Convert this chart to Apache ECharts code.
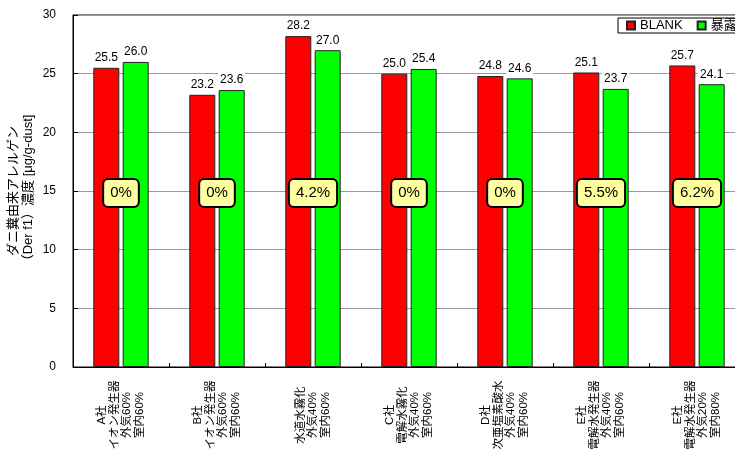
<!DOCTYPE html>
<html><head><meta charset="utf-8">
<script src="https://cdn.jsdelivr.net/npm/echarts@6/dist/echarts.min.js"></script>
<style>html,body{margin:0;padding:0;background:#fff}#c{width:735px;height:455px}</style>
</head><body><div id="c"></div>
<script>
const categories = [
  'A社\nイオン発生器\n外気60%\n室内60%',
  'B社\nイオン発生器\n外気60%\n室内60%',
  '水道水霧化\n外気40%\n室内60%',
  'C社\n電解水霧化\n外気40%\n室内60%',
  'D社\n次亜塩素酸水\n外気40%\n室内60%',
  'E社\n電解水発生器\n外気40%\n室内60%',
  'E社\n電解水発生器\n外気20%\n室内80%'
];
const seriesNames = ['BLANK', '暴露'];
const blankValues = [25.5, 23.2, 28.2, 25.0, 24.8, 25.1, 25.7];
const exposedValues = [26.0, 23.6, 27.0, 25.4, 24.6, 23.7, 24.1];
const reductionRates = [0, 0, 4.2, 0, 0, 5.5, 6.2];
const reductionLabelLevel = 15;
const yMin = 0, yMax = 30, yInterval = 5;
const yAxisTitle = 'ダニ糞由来アレルゲン\n（Der f1）濃度 [μg/g-dust]';

const FONT = '"Liberation Sans", "Noto Sans CJK JP", sans-serif';
const chart = echarts.init(document.getElementById('c'), null, {renderer: 'canvas'});

const valueLabel = {
  show: true, position: 'top', distance: 3,
  formatter: p => p.value.toFixed(1),
  fontSize: 12, color: '#000', fontFamily: FONT,
  backgroundColor: '#fff', padding: [2, 2, 1, 2]
};

chart.setOption({
  animation: false,
  textStyle: {fontFamily: FONT},
  grid: {
    left: 73, top: 15, width: 672, height: 352,
    outerBoundsMode: 'none', containLabel: false,
    show: true, borderColor: '#000', borderWidth: 1, backgroundColor: 'transparent'
  },
  legend: {
    data: seriesNames, left: 618, top: 18, width: 300, orient: 'horizontal',
    backgroundColor: '#fff', borderColor: '#000', borderWidth: 1,
    padding: [1, 4, 1, 8], itemWidth: 8, itemHeight: 8, itemGap: 14,
    icon: 'rect',
    textStyle: {fontSize: 13, color: '#000', fontFamily: FONT}
  },
  xAxis: {
    type: 'category', data: categories,
    axisLine: {lineStyle: {color: '#000', width: 1}},
    axisTick: {show: true, inside: true, length: 4, lineStyle: {color: '#000'}},
    axisLabel: {
      interval: 0, rotate: 90, align: 'center', margin: 48,
      fontSize: 11.5, lineHeight: 12.5, color: '#000', fontFamily: FONT,
      padding: [0, 0, 12, 0]
    },
    splitLine: {show: false}
  },
  yAxis: {
    type: 'value', min: yMin, max: yMax, interval: yInterval,
    name: yAxisTitle, nameLocation: 'middle', nameRotate: 90, nameGap: 37,
    nameMoveOverlap: false,
    nameTextStyle: {fontSize: 13, lineHeight: 15, color: '#000', fontFamily: FONT},
    axisLine: {show: true, lineStyle: {color: '#000', width: 1}},
    axisTick: {show: true, inside: true, length: 5, lineStyle: {color: '#000'}},
    axisLabel: {fontSize: 12, color: '#000', margin: 17, fontFamily: FONT},
    splitLine: {show: true, lineStyle: {color: '#999', width: 1}}
  },
  series: [
    {
      name: seriesNames[0], type: 'bar', data: blankValues,
      barWidth: 26, barGap: '13%',
      itemStyle: {color: '#ff0000', borderColor: '#222', borderWidth: 1},
      label: valueLabel
    },
    {
      name: seriesNames[1], type: 'bar', data: exposedValues,
      barWidth: 26,
      itemStyle: {color: '#00ff00', borderColor: '#222', borderWidth: 1},
      label: valueLabel
    },
    {
      name: 'reduction', type: 'scatter', silent: true, z: 10,
      data: reductionRates.map((r, i) => [i, reductionLabelLevel, r]),
      symbolSize: 0, itemStyle: {color: 'rgba(0,0,0,0)', opacity: 1},
      label: {
        show: true, position: 'inside', offset: [0, 2],
        formatter: p => p.value[2] + '%',
        fontSize: 15, color: '#000', fontFamily: FONT,
        backgroundColor: '#ffffa0', borderColor: '#000', borderWidth: 2, borderRadius: 4,
        padding: [6, 6, 5, 6]
      }
    }
  ]
});
</script></body></html>
